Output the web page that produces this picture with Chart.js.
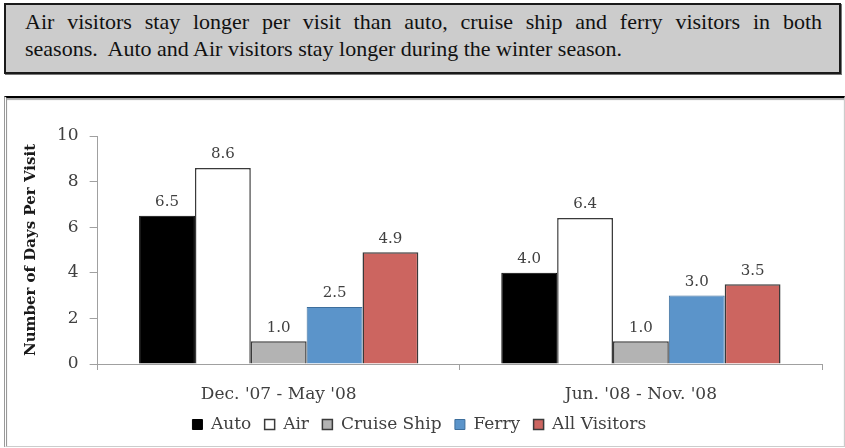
<!DOCTYPE html>
<html lang="en">

<head>
    <meta charset="UTF-8">
    <title>Days Per Visit</title>
    <script src="https://cdn.jsdelivr.net/npm/chart.js@4.4.1/dist/chart.umd.min.js"></script>
    <style>
        body {
            margin: 0;
            width: 845px;
            height: 448px;
            background: #ffffff;
            position: relative;
            overflow: hidden;
        }

        #note {
            position: absolute;
            left: 4px;
            top: 3px;
            width: 837px;
            height: 71px;
            box-sizing: border-box;
            background: #cccccc;
            border: 2px solid #1a1a1a;
            box-shadow: 1px 1px 0 #777;
            font-family: "Liberation Serif", serif;
            font-size: 22px;
            color: #111;
            padding: 3px 17px 0 19px;
            line-height: 27px;
        }

        #note .l1 {
            text-align: justify;
            text-align-last: justify;
        }

        #chartBox {
            position: absolute;
            left: 4px;
            top: 96px;
            width: 841px;
            height: 351px;
            box-sizing: border-box;
            border-top: 2px solid #000;
            border-left: 3px double #999;
            border-right: 1px solid #ccc;
            border-bottom: 1px solid #ccc;
            box-shadow: inset 0 2px 1px #aaa;
        }

        #chartBox canvas {
            position: absolute;
            left: 0;
            top: 0;
        }
    </style>
</head>

<body>
    <div id="note">
        <div class="l1">Air visitors stay longer per visit than auto, cruise ship and ferry visitors in both</div>
        <div>seasons.&nbsp; Auto and Air visitors stay longer during the winter season.</div>
    </div>

    <div id="chartBox">
        <canvas id="bar_1" width="837" height="348"></canvas>
    </div>
</body>

<script>
    // seasons on the x axis
    const seasons = ["Dec. '07 - May '08", "Jun. '08 - Nov. '08"];

    // days per visit, one array per visitor type
    const auto_days = [6.5, 4.0];
    const air_days = [8.6, 6.4];
    const cruise_days = [1.0, 1.0];
    const ferry_days = [2.5, 3.0];
    const all_days = [4.9, 3.5];

    const y_ticks = [0, 2, 4, 6, 8, 10];

    const FONT = "'DejaVu Serif', serif";
    const GREY_TEXT = '#404040';

    // draw the value above every bar
    const valueLabels = {
        id: 'valueLabels',
        afterDatasetsDraw(chart) {
            const ctx = chart.ctx;
            ctx.save();
            ctx.font = "15px " + FONT;
            ctx.fillStyle = GREY_TEXT;
            ctx.textAlign = 'center';
            ctx.textBaseline = 'bottom';
            chart.data.datasets.forEach((ds, i) => {
                const meta = chart.getDatasetMeta(i);
                meta.data.forEach((bar, j) => {
                    ctx.fillText(ds.data[j].toFixed(1), bar.x, bar.y - 6);
                });
            });
            ctx.restore();
        }
    };

    const ctx = document.getElementById('bar_1').getContext('2d');
    const myChart = new Chart(ctx, {
        type: 'bar',
        data: {
            labels: seasons,
            datasets: [{
                    label: 'Auto',
                    data: auto_days,
                    backgroundColor: '#000000',
                    borderColor: '#000000',
                    borderWidth: 1,
                },
                {
                    label: 'Air',
                    data: air_days,
                    backgroundColor: '#ffffff',
                    borderColor: '#3a3a3a',
                    borderWidth: 1.5,
                },
                {
                    label: 'Cruise Ship',
                    data: cruise_days,
                    backgroundColor: '#b3b3b3',
                    borderColor: '#3a3a3a',
                    borderWidth: 1.5,
                },
                {
                    label: 'Ferry',
                    data: ferry_days,
                    backgroundColor: '#5b94ca',
                    borderColor: '#3d6e9c',
                    borderWidth: 1,
                },
                {
                    label: 'All Visitors',
                    data: all_days,
                    backgroundColor: '#cc6560',
                    borderColor: '#3a3a3a',
                    borderWidth: 1.5,
                },
            ],
        },
        options: {
            responsive: false,
            animation: false,
            barPercentage: 1.0,
            categoryPercentage: 0.771,
            layout: {
                padding: { top: 38, right: 22, left: 15, bottom: 3 }
            },
            plugins: {
                tooltip: { enabled: false },
                legend: {
                    position: 'bottom',
                    labels: {
                        boxWidth: 10,
                        boxHeight: 10,
                        padding: 8,
                        color: GREY_TEXT,
                        font: { family: FONT, size: 17 },
                        // a trailing space widens the gap between legend items
                        generateLabels: chart => {
                            const items = Chart.defaults.plugins.legend.labels.generateLabels(chart);
                            items.forEach(it => { it.text = it.text + ' '; });
                            return items;
                        }
                    }
                }
            },
            scales: {
                x: {
                    afterFit: axis => {
                        axis.height = 44;
                    },
                    grid: {
                        drawOnChartArea: false,
                        tickLength: 6,
                        color: '#a0a0a0',
                    },
                    border: { color: '#a0a0a0' },
                    ticks: {
                        color: GREY_TEXT,
                        padding: 14,
                        font: { family: FONT, size: 17 },
                    }
                },
                y: {
                    min: 0,
                    max: 10,
                    afterBuildTicks: axis => {
                        axis.ticks = y_ticks.map(v => ({ value: v }));
                    },
                    grid: {
                        drawOnChartArea: false,
                        tickLength: 8,
                        color: '#a0a0a0',
                    },
                    border: { color: '#a0a0a0' },
                    ticks: {
                        color: GREY_TEXT,
                        padding: 11,
                        font: { family: FONT, size: 17 },
                    },
                    title: {
                        display: true,
                        text: 'Number of Days Per Visit',
                        color: '#1a1a1a',
                        padding: { top: 0, bottom: 6 },
                        font: { family: FONT, size: 15, weight: 'bold' },
                    }
                }
            }
        },
        plugins: [valueLabels]
    });
</script>

</html>
